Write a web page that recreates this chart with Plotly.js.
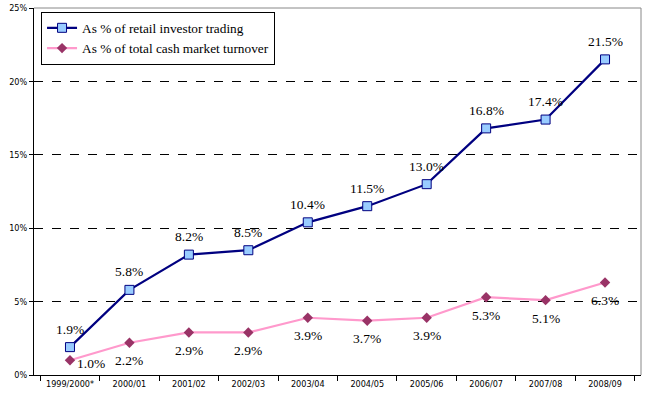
<!DOCTYPE html>
<html><head><meta charset="utf-8">
<script src="https://cdn.plot.ly/plotly-3.0.1.min.js"></script>
<style>html,body{margin:0;padding:0;background:#fff}#c{width:651px;height:403px}</style>
</head><body><div id="c"></div>
<script>
var categories = ["1999/2000*","2000/01","2001/02","2002/03","2003/04","2004/05","2005/06","2006/07","2007/08","2008/09"];
var retailShare = [1.9, 5.8, 8.2, 8.5, 10.4, 11.5, 13.0, 16.8, 17.4, 21.5];
var cashShare = [1.0, 2.2, 2.9, 2.9, 3.9, 3.7, 3.9, 5.3, 5.1, 6.3];
var seriesNames = ["As % of retail investor trading", "As % of total cash market turnover"];
var yTicks = [0, 5, 10, 15, 20, 25];

var serif = "Liberation Serif";
var sans = "DejaVu Sans Condensed";

var traces = [
  {
    x: categories, y: retailShare, name: seriesNames[0], type: "scatter", mode: "lines+markers",
    line: {color: "#000080", width: 2.2},
    marker: {symbol: "square", size: 9, color: "#99CCFF", line: {color: "#000080", width: 1}},
    cliponaxis: false
  },
  {
    x: categories, y: cashShare, name: seriesNames[1], type: "scatter", mode: "lines+markers",
    line: {color: "#FF99CC", width: 2.2},
    marker: {symbol: "diamond", size: 8, color: "#993366"},
    cliponaxis: false
  }
];

var annotations = [];
retailShare.forEach(function(v, i){
  annotations.push({x: categories[i], y: v, xref: "x", yref: "y", text: v.toFixed(1) + "%",
    showarrow: false, yshift: 18, font: {family: serif, size: 13.5, color: "#000"}});
});
cashShare.forEach(function(v, i){
  annotations.push({x: categories[i], y: v, xref: "x", yref: "y", text: v.toFixed(1) + "%",
    showarrow: false, xshift: i === 0 ? 21 : 0, yshift: i === 0 ? -3 : -18,
    font: {family: serif, size: 13.5, color: "#000"}});
});

var layout = {
  width: 651, height: 403,
  margin: {l: 34, r: 10, t: 8, b: 28, pad: 0, autoexpand: false},
  paper_bgcolor: "#fff", plot_bgcolor: "#fff",
  showlegend: true,
  legend: {
    x: 0.0116, y: 0.99, xanchor: "left", yanchor: "top",
    bgcolor: "#fff", bordercolor: "#000", borderwidth: 1,
    font: {family: serif, size: 13.3, color: "#000"},
    tracegroupgap: 0, itemwidth: 30
  },
  annotations: annotations,
  xaxis: {
    type: "category", tickson: "boundaries", ticks: "outside", ticklen: 5, tickcolor: "#000",
    tickangle: 0, automargin: false,
    showline: true, linecolor: "#000", linewidth: 1, showgrid: false, zeroline: false,
    tickfont: {family: sans, size: 9, color: "#000"}, fixedrange: true
  },
  yaxis: {
    range: [0, 25], tickvals: yTicks, ticktext: yTicks.map(function(v){ return v + "%"; }),
    ticks: "outside", ticklen: 4, tickcolor: "#000", automargin: false,
    showline: true, linecolor: "#000", linewidth: 1,
    showgrid: true, gridcolor: "#000", griddash: "dash", gridwidth: 1, zeroline: false,
    tickfont: {family: sans, size: 9, color: "#000"}
  },
  shapes: [
    {type: "line", xref: "paper", yref: "paper", x0: 0, x1: 1, y0: 1, y1: 1, line: {color: "#888", width: 1}},
    {type: "line", xref: "paper", yref: "paper", x0: 1, x1: 1, y0: 0, y1: 1, line: {color: "#888", width: 1}}
  ]
};

Plotly.newPlot("c", traces, layout, {displayModeBar: false, staticPlot: true});
</script></body></html>
